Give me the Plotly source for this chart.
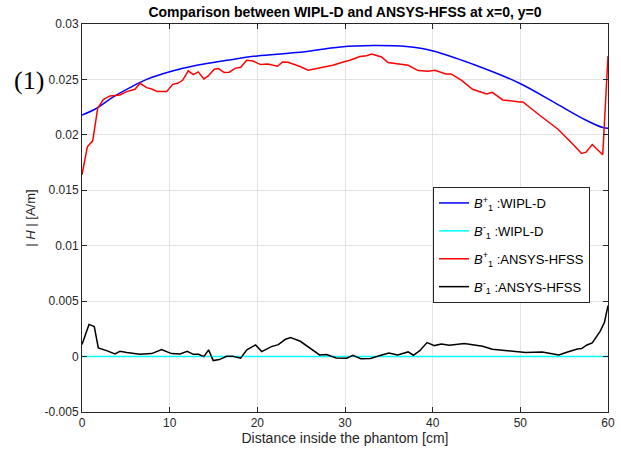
import plotly.graph_objects as go

# B1+ WIPL-D (smooth)
x_wipl_p = [0, 1.67, 3.57, 5.47, 7.38, 10, 13.1, 16.5, 20, 24.5, 29.5, 33.2, 37.0, 40.05, 44.6, 49.9, 54.1, 57.5, 59.4, 60]
y_wipl_p = [0.02178, 0.0224, 0.02342, 0.02426, 0.02501, 0.0257, 0.02628, 0.02672, 0.02712, 0.02742, 0.02793, 0.02805, 0.02796, 0.02757, 0.02637, 0.02466, 0.02282, 0.02132, 0.02066, 0.0206]

# B1- WIPL-D
x_wipl_m = [0, 60]
y_wipl_m = [0.0, 0.0]

# B1+ ANSYS-HFSS
x_hfss_p = [0, 0.61, 1.22, 1.79, 2.43, 3.19, 4.33, 5.1, 6.04, 6.61, 7.38, 7.95, 8.59, 9.66, 10.34, 10.91,
            11.48, 12.12, 12.69, 13.26, 13.9, 14.4, 15.09, 15.56, 16.23, 16.8, 17.45, 18.1, 18.78, 19.5,
            20.37, 21.2, 22.3, 22.88, 23.5, 24.8, 25.8, 27.1, 28.6, 29.8, 30.56, 31.7, 32.46, 33.03, 34.17,
            34.9, 37.2, 38.35, 39.5, 40.25, 41.5, 42.1, 43.3, 44.55, 46.15, 46.8, 48.0, 49.9, 50.3, 52.2,
            53.0, 54.3, 56.0, 56.98, 57.5, 58.2, 59.4, 60]
y_hfss_p = [0.0164, 0.01892, 0.01946, 0.0224, 0.02318, 0.02351, 0.0236, 0.0239, 0.02411, 0.02465, 0.02426,
            0.02414, 0.0239, 0.0239, 0.02456, 0.02465, 0.02492, 0.02577, 0.02543, 0.02568, 0.02505, 0.02532,
            0.02592, 0.02598, 0.02562, 0.02565, 0.026, 0.0261, 0.02672, 0.02666, 0.02634, 0.0264, 0.02619,
            0.02658, 0.02655, 0.02619, 0.02583, 0.02603, 0.02628, 0.02658, 0.02673, 0.02706, 0.02714, 0.0273,
            0.02703, 0.02652, 0.02628, 0.0258, 0.02574, 0.02583, 0.0255, 0.0255, 0.02492, 0.02411, 0.02369,
            0.02384, 0.02315, 0.02297, 0.02297, 0.02177, 0.02126, 0.02051, 0.01916, 0.01832, 0.01844, 0.01913,
            0.0182, 0.02712]

# B1- ANSYS-HFSS
x_hfss_m = [0, 0.8, 1.4, 1.86, 2.8, 3.76, 4.33, 5.1, 6.6, 7.95, 9.08, 10.2, 11.2, 12.0, 12.7, 13.3, 13.9,
            14.44, 14.97, 15.66, 16.5, 17.2, 18.1, 18.8, 19.8, 20.5, 21.6, 22.4, 23.2, 23.8, 24.9, 26.0,
            27.1, 27.9, 29.0, 30.2, 30.9, 31.8, 32.9, 34.1, 35.0, 36.0, 37.2, 37.8, 38.5, 39.36, 40.2, 41.0,
            41.9, 43.6, 45.7, 46.8, 48.3, 50.6, 52.5, 54.4, 55.3, 56.5, 57.0, 57.6, 58.2, 59.1, 59.6, 60]
y_hfss_m = [0.00108, 0.0029, 0.0027, 0.00078, 0.00054, 0.00024, 0.00048, 0.00036, 0.0002, 0.00027, 0.00063,
            0.00027, 0.00024, 0.00048, 0.0002, 0.0002, 0.0, 0.0006, -0.00036, -0.00027, 0.00003, 0.00003,
            -0.00015, 0.0006, 0.00105, 0.00045, 0.0009, 0.00108, 0.00156, 0.00171, 0.00138, 0.00075, 0.00015,
            0.00018, -0.00012, -0.00015, 0.00012, -0.0002, -0.00018, 0.00012, 0.00033, 0.00015, 0.00042,
            0.00012, 0.00051, 0.00126, 0.00099, 0.00114, 0.00102, 0.00117, 0.00093, 0.00066, 0.00054, 0.00036,
            0.00042, 0.00015, 0.00039, 0.00069, 0.00072, 0.00105, 0.00123, 0.00228, 0.0031, 0.0046]

y_ticks = [-0.005, 0, 0.005, 0.01, 0.015, 0.02, 0.025, 0.03]
y_ticktext = ["-0.005", "0", "0.005", "0.01", "0.015", "0.02", "0.025", "0.03"]
x_ticks = [0, 10, 20, 30, 40, 50, 60]

FONT = "Liberation Sans, Arial, sans-serif"

fig = go.Figure()
fig.add_trace(go.Scatter(x=x_wipl_p, y=y_wipl_p, mode="lines", line=dict(color="#0000FF", width=1.5, shape="spline"),
                         name="<i>B</i><sup>+</sup><sub>1</sub> :WIPL-D", legendgroup="a"))
fig.add_trace(go.Scatter(x=x_wipl_m, y=y_wipl_m, mode="lines", line=dict(color="#00FFFF", width=1.5),
                         name="<i>B</i><sup>-</sup><sub>1</sub> :WIPL-D", legendgroup="b"))
fig.add_trace(go.Scatter(x=x_hfss_p, y=y_hfss_p, mode="lines", line=dict(color="#FF0000", width=1.5),
                         name="<i>B</i><sup>+</sup><sub>1</sub> :ANSYS-HFSS", legendgroup="c"))
fig.add_trace(go.Scatter(x=x_hfss_m, y=y_hfss_m, mode="lines", line=dict(color="#000000", width=1.5),
                         name="<i>B</i><sup>-</sup><sub>1</sub> :ANSYS-HFSS", legendgroup="d"))

axis_common = dict(showline=True, linecolor="#262626", linewidth=1, mirror="ticks", ticks="inside",
                   ticklen=5, tickcolor="#262626", showgrid=True, gridcolor="#E3E3E3", gridwidth=1,
                   zeroline=False, automargin=False,
                   tickfont=dict(family=FONT, size=12, color="#262626"))

fig.update_xaxes(range=[0, 60], tickvals=x_ticks,
                 title=dict(text="Distance inside the phantom [cm]", font=dict(family=FONT, size=14, color="#262626"), standoff=2),
                 **axis_common)
fig.update_yaxes(range=[-0.005, 0.03], tickvals=y_ticks, ticktext=y_ticktext,
                 title=dict(text="| <i>H</i> | [A/m]", font=dict(family=FONT, size=13, color="#262626"), standoff=6),
                 **axis_common)

fig.update_layout(
    width=621, height=450,
    margin=dict(l=82, r=13, t=24, b=38, autoexpand=False),
    paper_bgcolor="white", plot_bgcolor="white",
    title=dict(text="<b>Comparison between WIPL-D and ANSYS-HFSS at x=0, y=0</b>", xref="paper", x=0.5, xanchor="center",
               yref="container", y=1 - 12 / 450, yanchor="middle", automargin=False,
               font=dict(family=FONT, size=14, color="black")),
    legend=dict(x=(433 - 82) / 526, y=(412 - 187) / 388, xanchor="left", yanchor="top", bgcolor="white",
                bordercolor="#262626", borderwidth=1, font=dict(family=FONT, size=13, color="black"),
                tracegroupgap=8, itemwidth=30),
    annotations=[dict(text="(1)", x=(29 - 82) / 526, y=(412 - 80) / 388, xref="paper", yref="paper",
                      xanchor="center", yanchor="middle", showarrow=False,
                      font=dict(family="Liberation Serif, Times New Roman, serif", size=26, color="black"))],
)

fig.write_html("out.html", config={"displayModeBar": False},
               post_script="document.body.style.margin='0px';document.body.style.overflow='hidden';")
